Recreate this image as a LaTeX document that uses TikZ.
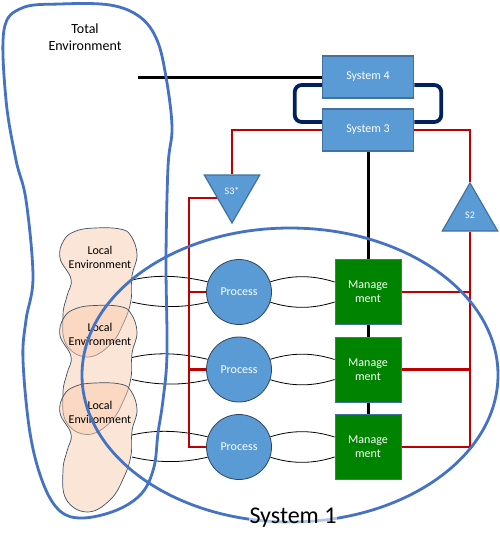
\documentclass[tikz,border=0pt]{standalone}
\usepackage{fontspec}
\setmainfont{Carlito}
\usetikzlibrary{
    shapes.geometric,
    backgrounds,
    calc
}
\definecolor{sysBlue}{RGB}{91, 155, 213}
\definecolor{sysBorder}{RGB}{65, 113, 156}
\definecolor{procBorder}{RGB}{47, 70, 95}
\definecolor{mgmtGreen}{RGB}{0, 132, 0}
\definecolor{linkRed}{RGB}{192, 0, 0}
\definecolor{loopNavy}{RGB}{0, 32, 96}
\definecolor{outlineBlue}{RGB}{68, 114, 196}
\definecolor{envPeach}{RGB}{248, 203, 173}
\definecolor{envBorder}{RGB}{62, 80, 100}
\tikzset{
    systemBox/.style={
        rectangle,
        minimum width=91pt,
        minimum height=42pt,
        fill=sysBlue,
        draw=sysBorder,
        line width=1.5pt,
        text=white,
        font=\fontsize{12}{14}\selectfont
    },
    filterTri/.style={
        regular polygon,
        regular polygon sides=3,
        minimum size=64pt,
        inner sep=0pt,
        fill=sysBlue,
        draw=sysBorder,
        line width=1.2pt,
        text=white,
        font=\fontsize{10}{12}\selectfont
    },
    processNode/.style={
        circle,
        minimum size=65pt,
        inner sep=0pt,
        fill=sysBlue,
        draw=procBorder,
        line width=0.8pt,
        text=white,
        font=\fontsize{12}{14}\selectfont
    },
    mgmtBox/.style={
        rectangle,
        minimum width=66pt,
        minimum height=65pt,
        inner sep=0pt,
        fill=mgmtGreen,
        draw=sysBorder,
        line width=0.8pt,
        text=white,
        align=center,
        font=\fontsize{12}{14}\selectfont
    },
    localEnv/.style={
        fill=envPeach,
        fill opacity=0.5,
        draw=envBorder,
        draw opacity=1,
        line width=0.7pt
    },
    envLabel/.style={
        align=center,
        font=\fontsize{12}{14}\selectfont
    },
    outline/.style={
        draw=outlineBlue,
        line width=2.8pt
    },
    channel/.style={
        draw=black,
        line width=0.8pt
    },
    redConnector/.style={
        draw=linkRed,
        line width=2.7pt
    },
    blackConnector/.style={
        draw=black,
        line width=3pt
    },
    loopConnector/.style={
        draw=loopNavy,
        line width=3.8pt,
        rounded corners=7pt
    }
}

\begin{document}
\begin{tikzpicture}[x=1pt, y=-1pt]
    \useasboundingbox (0,0) rectangle (500,547);

    % Systems
    \node[systemBox] (sysfour) at (368,77) {System 4};
    \node[systemBox] (systhree) at (368,130) {System 3};
    \node[filterTri, shape border rotate=180] (sthree) at (232,191) {S3*};
    \node[filterTri] (stwo) at (470,215) {S2};

    % Operations
    \foreach \i/\y in {1/292, 2/369.5, 3/447} {
        \node[processNode] (proc\i) at (239,\y) {Process};
        \node[mgmtBox] (mgmt\i) at (368,\y) {Manage\\ment};
        \coordinate (lenv\i) at (132,\y);
    }
    \coordinate (envtap) at (138,77);

    \begin{scope}[on background layer]
        % Channels
        \foreach \i in {1,2,3} {
            \draw[channel] ([yshift=12pt]lenv\i) .. controls +(25,-6) and +(-25,-6) .. (proc\i.162);
            \draw[channel] ([yshift=-10pt]lenv\i) .. controls +(25,6) and +(-25,6) .. (proc\i.198);
            \draw[channel] (proc\i.18) .. controls +(22,-7) and +(-22,-7) .. ([yshift=10pt]mgmt\i.west);
            \draw[channel] (proc\i.-18) .. controls +(22,7) and +(-22,7) .. ([yshift=-10pt]mgmt\i.west);
        }

        % Edges
        \draw[loopConnector] ([yshift=-8pt]sysfour.west) -- ++(-27,0) |- ([yshift=8pt]systhree.west);
        \draw[loopConnector] ([yshift=-8pt]sysfour.east) -- ++(27,0) |- ([yshift=8pt]systhree.east);
        \draw[blackConnector] (sysfour.west) -- (envtap);
        \draw[blackConnector] (systhree) -- (mgmt1);
        \draw[blackConnector] (mgmt1) -- (mgmt2);
        \draw[blackConnector] (mgmt2) -- (mgmt3);

        \draw[redConnector] (systhree.west) -| (sthree);
        \draw[redConnector] (systhree.east) -| (stwo);
        \draw[redConnector] (sthree.205) -| ([xshift=-17pt]proc3.west) -- (proc3.west);
        \draw[redConnector] (proc1.west) -- ++(-17,0);
        \draw[redConnector] (proc2.west) -- ++(-17,0);
        \draw[redConnector] (stwo.south) |- (mgmt3.east);
        \draw[redConnector] (mgmt1.east) -- (mgmt1.east -| stwo.south);
        \draw[redConnector] (mgmt2.east) -- (mgmt2.east -| stwo.south);
    \end{scope}

    % Local environments
    \foreach \i in {1,2,3} {
        \begin{scope}[shift={(0,77.5*\i-77.5)}]
            \filldraw[localEnv] plot[smooth cycle, tension=0.7] coordinates {
                (95,228) (120,229) (131,236) (137,255) (132,276) (131,300)
                (124,322) (110,345) (87,357) (66,344) (63,315) (67,296)
                (71,279) (60,258) (64,240) (76,231)};
            \node[envLabel] (lenvlabel\i) at (100,257) {Local\\Environment};
        \end{scope}
    }

    % Total environment
    \draw[outline] plot[smooth cycle, tension=0.6] coordinates {
        (4,30) (22,8) (60,4) (110,5) (140,17) (157,40) (166,77) (172,127)
        (168,167) (166,260) (167,353) (163,400) (158,433) (154,467)
        (142,493) (117,510) (83,518) (60,511) (43,483) (30,433) (23,360)
        (26,320) (33,277) (26,200) (16,160) (6,100)};
    \node[font=\fontsize{14}{17}\selectfont, align=center] (totalenv) at (85,37) {Total\\Environment};

    % System 1
    \draw[outline] (290,375) ellipse [x radius=208, y radius=147];
    \node[font=\fontsize{24}{28}\selectfont, fill=white, fill opacity=0.6, text opacity=1, inner sep=1pt] (sysone) at (293,518) {System 1};
\end{tikzpicture}
\end{document}
